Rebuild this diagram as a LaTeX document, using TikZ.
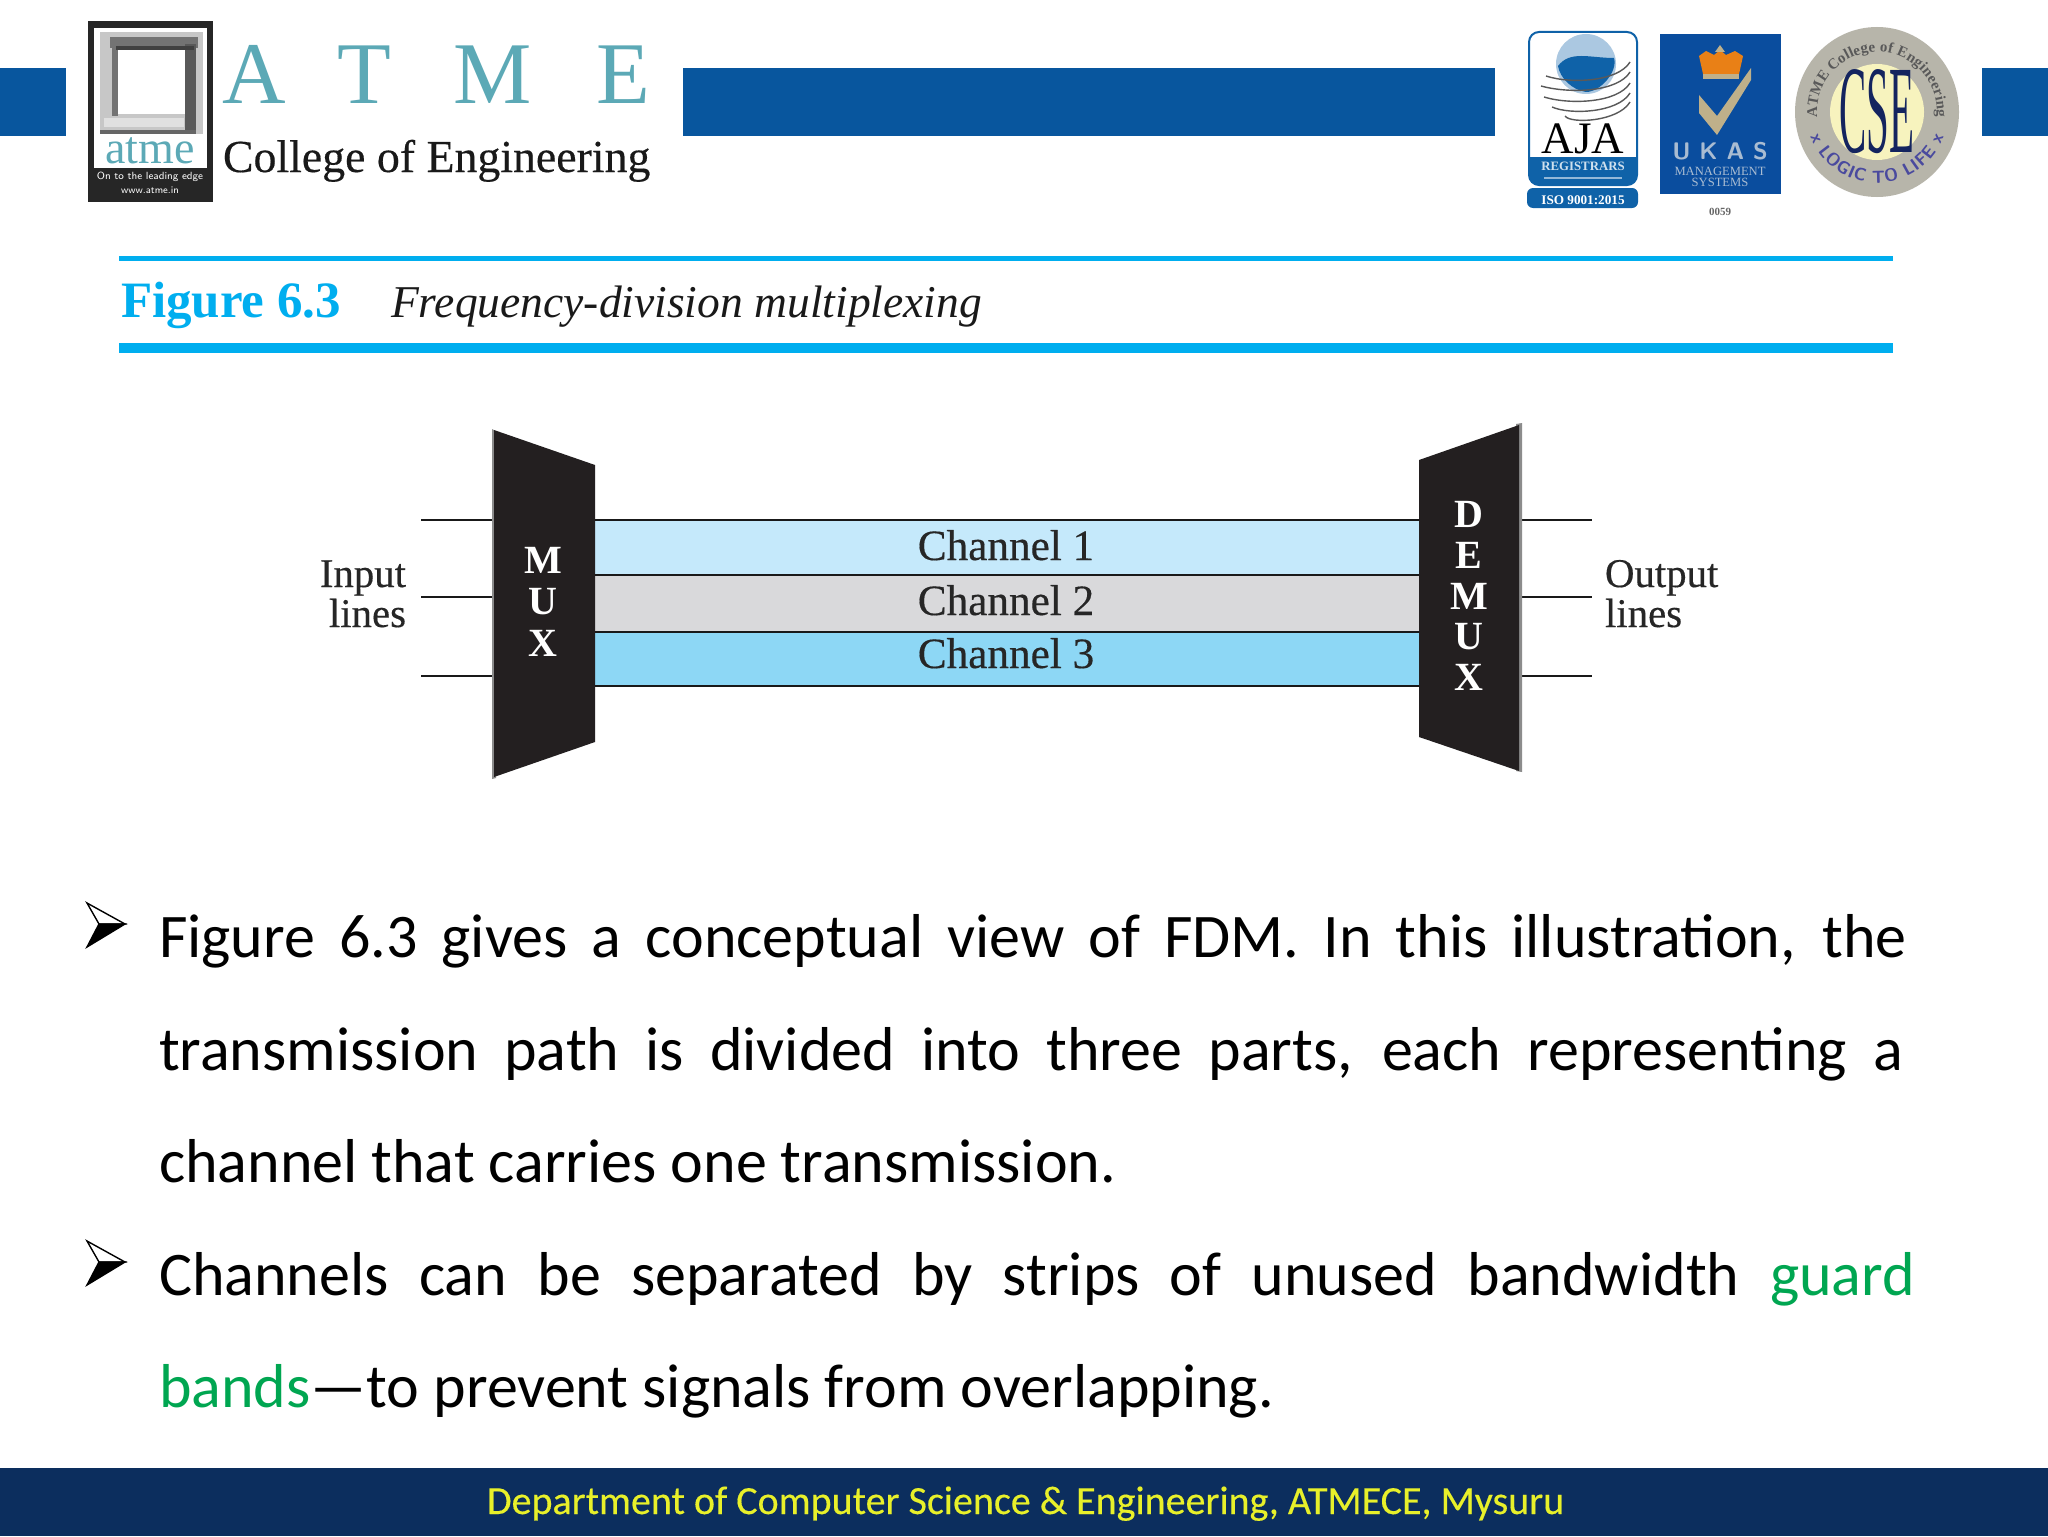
\documentclass[tikz,border=0pt]{standalone}
\usepackage{fontspec}
\usepackage{graphicx}
\setmainfont{Carlito}
\newfontfamily\serifff{Liberation Serif}
\newfontfamily\serifheavy[FakeBold=0.35]{Liberation Serif}
\newfontfamily\footff[FakeBold=0.3]{Carlito}
\usetikzlibrary{decorations.text}
\definecolor{hdrblue}{HTML}{08569E}
\definecolor{rulecyan}{HTML}{00AEEF}
\definecolor{footblue}{HTML}{0C2E5E}
\definecolor{footyellow}{HTML}{E8F02A}
\definecolor{atmeteal}{HTML}{5CA9B6}
\definecolor{chone}{HTML}{C5E9FB}
\definecolor{chtwo}{HTML}{D9D9DB}
\definecolor{chthree}{HTML}{8DD7F5}
\definecolor{muxblack}{HTML}{231F20}
\definecolor{guardgreen}{HTML}{00A651}
\definecolor{ajablue}{HTML}{0F62A8}
\definecolor{ukasblue}{HTML}{0A4D9E}
\definecolor{ukastan}{HTML}{BFB08A}
\definecolor{ukastext}{HTML}{A9BCD2}
\definecolor{sealgrey}{HTML}{B7B5AA}
\definecolor{sealyellow}{HTML}{F7F3BE}
\definecolor{sealnavy}{HTML}{14245F}
\definecolor{sealviolet}{HTML}{4A4A9E}
\newcommand{\fs}[1]{\fontsize{#1}{#1}\selectfont}
\tikzset{
  x=0.5pt,y=-0.5pt,
  txt/.style={inner sep=0pt,outer sep=0pt,anchor=base west},
  txtc/.style={inner sep=0pt,outer sep=0pt,anchor=base},
  txte/.style={inner sep=0pt,outer sep=0pt,anchor=base east},
  bodyl/.style={txt,font=\fs{31}},
  chanl/.style={txtc,font=\serifheavy\fs{21.6},text=black!85},
  diagl/.style={font=\serifheavy\fs{20.4},text=black!85},
  muxl/.style={txtc,font=\serifff\bfseries\fs{20},text=white},
  wire/.style={draw=black!90,line width=1.2pt},
  hbar/.style={fill=hdrblue,draw=none},
  atmel/.style={txtc,font=\serifff\fs{44},text=atmeteal},
  bulletup/.style={draw=black,line width=0.7pt,fill=white,line join=miter},
  bulletlow/.style={draw=black,line width=0.7pt,fill=black,line join=miter},
}
\begin{document}
\begin{tikzpicture}
\useasboundingbox (0,0) rectangle (2048,1536);
\fill[white] (0,0) rectangle (2048,1536);
% header bars
\fill[hbar] (0,68) rectangle (66,136);
\fill[hbar] (683,68) rectangle (1495,136);
\fill[hbar] (1982,68) rectangle (2048,136);
% atme logo
\fill[black!85] (88,21) rectangle (213,202);
\fill[white] (94,28) rectangle (207,168);
\fill[black!22] (100,32) rectangle (203,134);
\fill[black!60] (100,130) rectangle (196,134);
\fill[black!12] (104,118) rectangle (184,127);
\fill[black!55] (110,37) rectangle (198,48);
\fill[black!55] (112,37) rectangle (118,116);
\fill[black!65] (185,44) rectangle (196,130);
\fill[black!75] (116,46) rectangle (194,50);
\fill[white] (118,50) rectangle (185,114);
\node[txtc,font=\serifff\fs{23},text=atmeteal] (atmew) at (150,163) {atme};
\node[txtc,font=\sffamily\fs{5.2},text=white] (atmes) at (150,179) {On to the leading edge};
\node[txtc,font=\sffamily\fs{5},text=white] (atmeu) at (150,193) {www.atme.in};
\node[atmel] (la) at (254,104) {A};
\node[atmel] (lt) at (364,104) {T};
\node[atmel] (lm) at (493,104) {M};
\node[atmel] (le) at (623,104) {E};
\node[txt,font=\serifheavy\fs{22.9},text=black!90] (coll) at (223,172) {College of Engineering};
% AJA logo
\draw[ajablue,line width=1pt,fill=white,rounded corners=5pt] (1529,32) rectangle (1637,185);
\fill[ajablue,rounded corners=5pt] (1529,157) rectangle (1637,185);
\fill[ajablue] (1529,157) rectangle (1637,170);
\fill[white!55!ajablue] (1544,177) rectangle (1622,179);
\fill[ajablue,rounded corners=3pt] (1527,188) rectangle (1638,208);
\fill[ajablue!35] (1586,64) circle[radius=30];
\fill[ajablue] (1558,66) .. controls (1570,50) and (1590,58) .. (1614,58) .. controls (1618,72) and (1600,92) .. (1586,92) .. controls (1572,90) and (1560,78) .. (1558,66) -- cycle;
\foreach \yy/\xa in {76/1546,86/1541,97/1544,107/1552,116/1565}{
  \draw[black!65,line width=0.7pt] (\xa,\yy) .. controls (1570,\yy+8) and (1618,\yy+6) .. (1630,\yy-14);
}
\node[txtc,font=\serifff\fs{22.5},text=black] (aja) at (1583,153) {AJA};
\node[txtc,font=\serifff\bfseries\fs{6.4},text=white!80!ajablue] (ajar) at (1583,170) {REGISTRARS};
\node[txtc,font=\serifff\bfseries\fs{6.6},text=white] (ajai) at (1583,204) {ISO 9001:2015};
% UKAS logo
\fill[ukasblue] (1660,34) rectangle (1781,194);
\fill[ukastan] (1699,95) -- (1699,113) -- (1717,135) -- (1751,80) -- (1751,68) -- (1717,116) -- cycle;
\fill[orange!65!brown] (1699,56) -- (1706,51) -- (1714,55) -- (1720,50) -- (1726,55) -- (1735,51) -- (1743,56) -- (1739,74) -- (1703,74) -- cycle;
\fill[ukastan] (1703,74) rectangle (1739,79);
\fill[ukastan] (1715,52) -- (1720,45) -- (1725,52) -- cycle;
\node[txtc,font=\sffamily\bfseries\fs{12},text=ukastext] (ukas) at (1720,159) {U K A S};
\node[txtc,font=\serifff\fs{6.3},text=ukastext] (ukasm) at (1720,175) {MANAGEMENT};
\node[txtc,font=\serifff\fs{6.3},text=ukastext] (ukass) at (1720,186) {SYSTEMS};
\node[txtc,font=\serifff\bfseries\fs{5.5},text=black!60] (ukasn) at (1720,215) {0059};
% CSE seal
\begin{scope}[shift={(1877,112)},x=0.5pt,y=0.5pt]
  \fill[sealgrey] (0,0) ellipse[x radius=82,y radius=85];
  \fill[sealyellow] (0,0) ellipse[x radius=47,y radius=48];
  \path[decorate,decoration={text along path,text align=fit to path,
     text={|\serifff\bfseries\fs{7.5}\color{black!65}|ATME College of Engineering}}]
     (185:60) arc[start angle=185,end angle=-5,radius=60];
  \path[decorate,decoration={text along path,text align=fit to path,
     text={|\sffamily\bfseries\fs{8.8}\color{sealviolet}|x LOGIC TO LIFE x}}]
     (200:71) arc[start angle=200,end angle=340,radius=71];
  \node[inner sep=0pt,text=sealnavy] (cse) at (0,0) {\resizebox{37.5pt}{41.5pt}{\serifff CSE}};
\end{scope}
% figure caption
\fill[rulecyan] (119,256) rectangle (1893,261);
\fill[rulecyan] (119,343) rectangle (1893,353);
\node[txt,font=\serifff\bfseries\fs{25.5},text=rulecyan] (figt) at (121,317) {Figure 6.3};
\node[txt,font=\serifff\itshape\fs{22.75},text=black!90] (figc) at (391,317) {Frequency-division multiplexing};
% channels
\fill[chone] (594,520) rectangle (1420,575);
\fill[chtwo] (594,575) rectangle (1420,632);
\fill[chthree] (594,632) rectangle (1420,686);
% mux and demux
\coordinate (in1) at (421,520);
\coordinate (in2) at (421,597);
\coordinate (in3) at (421,676);
\coordinate (min1) at (494,520);
\coordinate (min2) at (494,597);
\coordinate (min3) at (494,676);
\coordinate (out1) at (1592,520);
\coordinate (out2) at (1592,597);
\coordinate (out3) at (1592,676);
\coordinate (dout1) at (1520,520);
\coordinate (dout2) at (1520,597);
\coordinate (dout3) at (1520,676);
\coordinate (mr1) at (594,520);
\coordinate (mr2) at (594,575);
\coordinate (mr3) at (594,632);
\coordinate (mr4) at (594,686);
\coordinate (dl1) at (1420,520);
\coordinate (dl2) at (1420,575);
\coordinate (dl3) at (1420,632);
\coordinate (dl4) at (1420,686);
\foreach \i in {1,2,3}{\draw[wire] (in\i) -- (min\i); \draw[wire] (dout\i) -- (out\i);}
\foreach \i in {1,2,3,4}{\draw[wire] (mr\i) -- (dl\i);}
\fill[black!45] (492,429) -- (496,431) -- (496,778) -- (492,779) -- cycle;
\fill[muxblack] (494,430) -- (595,465) -- (595,742) -- (494,777) -- cycle;
\fill[black!45] (1516,424) -- (1522,423) -- (1522,772) -- (1516,771) -- cycle;
\fill[muxblack] (1419,460) -- (1519,425) -- (1519,771) -- (1419,737) -- cycle;
\node[muxl] (m1) at (543,573) {M};
\node[muxl] (m2) at (543,614) {U};
\node[muxl] (m3) at (543,656) {X};
\node[muxl] (d1) at (1469,527) {D};
\node[muxl] (d2) at (1469,568) {E};
\node[muxl] (d3) at (1469,609) {M};
\node[muxl] (d4) at (1469,649) {U};
\node[muxl] (d5) at (1469,690) {X};
\node[chanl] (c1) at (1006,560) {Channel 1};
\node[chanl] (c2) at (1006,615) {Channel 2};
\node[chanl] (c3) at (1006,668) {Channel 3};
\node[txte,diagl] (il1) at (406,587) {Input};
\node[txte,diagl] (il2) at (406,627) {lines};
\node[txt,diagl] (ol1) at (1605,587) {Output};
\node[txt,diagl] (ol2) at (1605,627) {lines};
% bullets
\foreach \dy in {0,338}{
  \draw[bulletup] (125,924+\dy) -- (87,903+\dy) -- (99,924+\dy) -- cycle;
  \draw[bulletlow] (125,924+\dy) -- (99,924+\dy) -- (87,947+\dy) -- cycle;
}
% body
\node[bodyl] (t1) at (159,957) {\makebox[874pt][s]{Figure 6.3 gives a conceptual view of FDM. In this illustration, the}};
\node[bodyl] (t2) at (159,1070) {\makebox[872pt][s]{transmission path is divided into three parts, each representing a}};
\node[bodyl] (t3) at (159,1182.5) {channel that carries one transmission.};
\node[bodyl] (t4) at (159,1295) {\makebox[878pt][s]{Channels can be separated by strips of unused bandwidth \textcolor{guardgreen}{guard}}};
\node[bodyl] (t5) at (159,1407.5) {\textcolor{guardgreen}{bands}—to prevent signals from overlapping.};
% footer
\fill[footblue] (0,1468) rectangle (2048,1536);
\node[txt,font=\footff\fs{20},text=footyellow] (foot) at (487,1514) {Department of Computer Science \& Engineering, ATMECE, Mysuru};
\end{tikzpicture}
\end{document}
